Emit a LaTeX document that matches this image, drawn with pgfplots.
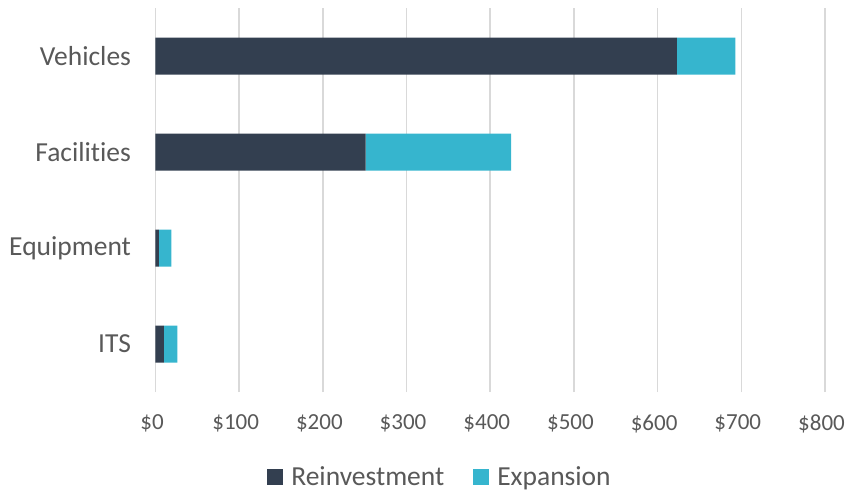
\documentclass[border=0pt]{standalone}
\usepackage{pgfplots}
\pgfplotsset{compat=1.18}
\usepackage{fontspec}
\setmainfont{Carlito}[Ligatures={NoCommon}]
\definecolor{reinv}{HTML}{333F50}
\definecolor{expan}{HTML}{36B5CE}
\definecolor{txt}{HTML}{595959}
\definecolor{grd}{HTML}{D9D9D9}
\begin{document}
\begin{tikzpicture}[x=1pt,y=1pt]
\useasboundingbox (0,0) rectangle (847,491);
\begin{axis}[
  at={(155.5pt,99pt)}, anchor=south west,
  scale only axis, width=669.5pt, height=384pt,
  xbar stacked, bar width=37pt,
  xmin=0, xmax=800, xtick={0,100,...,800},
  ymin=-0.5, ymax=3.5, ytick={0,1,2,3},
  yticklabels={ITS,Equipment,Facilities,Vehicles},
  xticklabel={\$\pgfmathprintnumber{\tick}},
  /pgf/number format/assume math mode=true,
  axis line style={draw=none}, major tick length=0pt,
  xmajorgrids, grid style={grd, line width=1.5pt},
  ticklabel style={text=txt},
  xticklabel style={font=\fontsize{23}{27}\selectfont, yshift=-19pt, xshift=-3.5pt},
  yticklabel style={font=\fontsize{27.5}{31}\selectfont, xshift=-21pt},
  legend style={at={(0.425,-0.221)}, anchor=center, draw=none,
    legend columns=2, font=\fontsize{27.5}{31}\selectfont, text=txt,
    /tikz/every odd column/.append style={column sep=6pt},
    /tikz/every even column/.append style={column sep=27pt}},
  legend image code/.code={\fill[#1] (0pt,-8pt) rectangle (16pt,8pt);},
]
\addplot[fill=reinv, draw=none] coordinates {(10,0) (4,1) (251,2) (623,3)};
\addplot[fill=expan, draw=none] coordinates {(16,0) (15,1) (174,2) (70,3)};
\legend{Reinvestment, Expansion}
\end{axis}
\end{tikzpicture}
\end{document}
